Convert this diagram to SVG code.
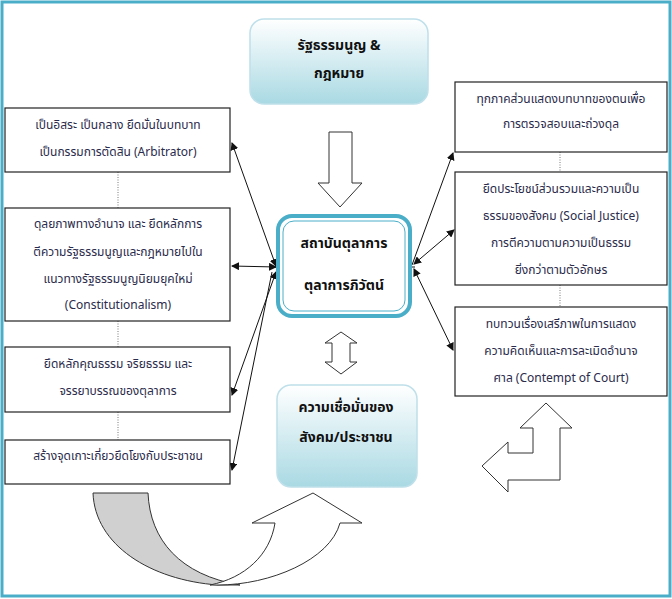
<svg xmlns="http://www.w3.org/2000/svg" width="672" height="599" viewBox="0 0 672 599">
<style>
.box{fill:#fff;stroke:#222;stroke-width:1.2}
.t{font-family:"Noto Sans Thai","Noto Sans","DejaVu Sans",sans-serif;font-size:12px;fill:#2b2b4b;text-anchor:middle}
.b{font-family:"Noto Sans Thai","Noto Sans","DejaVu Sans",sans-serif;font-size:14px;font-weight:bold;fill:#111;text-anchor:middle}
.c{stroke:#111;stroke-width:1;fill:none;marker-end:url(#ah)}
.cs{marker-start:url(#as)}
.dot{stroke:#555;stroke-width:0.8;stroke-dasharray:1,1.5}
.bg{fill:#fff;stroke:#333;stroke-width:1}
</style>
<defs>
<marker id="ah" markerWidth="8" markerHeight="8" refX="7" refY="4" orient="auto" markerUnits="userSpaceOnUse"><path d="M0,0 L8,4 L0,8 z" fill="#111"/></marker>
<marker id="as" markerWidth="8" markerHeight="8" refX="1" refY="4" orient="auto" markerUnits="userSpaceOnUse"><path d="M8,0 L0,4 L8,8 z" fill="#111"/></marker>
<linearGradient id="g" x1="0" y1="0" x2="0" y2="1"><stop offset="0" stop-color="#ffffff"/><stop offset="1" stop-color="#a9d9e3"/></linearGradient>
</defs>
<rect x="2" y="2" width="668" height="594" fill="#fff" stroke="#4aaec8" stroke-width="3"/>
<g id="connectors">
<line class="dot" x1="118" y1="172" x2="118" y2="208"/>
<line class="dot" x1="118" y1="321" x2="118" y2="347"/>
<line class="dot" x1="118" y1="412" x2="118" y2="440"/>
<line class="dot" x1="560" y1="152" x2="560" y2="172"/>
<line class="dot" x1="560" y1="285" x2="560" y2="307"/>
<line class="c cs" x1="232" y1="143" x2="276" y2="266"/>
<line class="c cs" x1="232" y1="266" x2="276" y2="267"/>
<line class="c cs" x1="276" y1="272" x2="232" y2="395"/>
<line class="c" x1="272" y1="272" x2="232" y2="470"/>
<line class="c" x1="412" y1="265" x2="453" y2="153"/>
<line class="c cs" x1="414" y1="264" x2="454" y2="230"/>
<line class="c cs" x1="414" y1="269" x2="453" y2="350"/>
<line x1="272" y1="267" x2="415" y2="267" stroke="#111" stroke-width="1"/>
</g>
<g id="top">
<rect x="250" y="19" width="178" height="85" rx="14" fill="url(#g)" stroke="#bfe0ea" stroke-width="1.5"/>
<text class="b" x="339" y="50">รัฐธรรมนูญ &amp;</text>
<text class="b" x="339" y="78">กฎหมาย</text>
</g>
<g id="downarrow"><path class="bg" d="M329,132 H352 V183 H362 L340,207 L318,183 H329 Z"/></g>
<g id="center">
<rect x="278" y="216" width="132" height="100" rx="14" fill="#fff" stroke="#4aaec8" stroke-width="4"/>
<rect x="283" y="221" width="122" height="90" rx="11" fill="none" stroke="#4aaec8" stroke-width="1"/>
<text class="b" x="344" y="248">สถาบันตุลาการ</text>
<text class="b" x="344" y="290">ตุลาการภิวัตน์</text>
</g>
<g id="dblarrow"><path class="bg" d="M341,332 L357,343 H350 V362 H357 L341,374 L325,362 H332 V343 H325 Z"/></g>
<g id="bottom">
<rect x="277" y="385" width="140" height="102" rx="14" fill="url(#g)" stroke="#bfe0ea" stroke-width="1.5"/>
<text class="b" x="346" y="412">ความเชื่อมั่นของ</text>
<text class="b" x="346" y="442">สังคม/ประชาชน</text>
</g>
<g id="L1"><rect class="box" x="5" y="108" width="225" height="64"/>
<text class="t" x="118" y="129">เป็นอิสระ เป็นกลาง ยึดมั่นในบทบาท</text>
<text class="t" x="118" y="156">เป็นกรรมการตัดสิน (Arbitrator)</text></g>
<g id="L2"><rect class="box" x="5" y="208" width="225" height="113"/>
<text class="t" x="118" y="228">ดุลยภาพทางอำนาจ และ ยึดหลักการ</text>
<text class="t" x="118" y="256">ตีความรัฐธรรมนูญและกฎหมายไปใน</text>
<text class="t" x="118" y="283">แนวทางรัฐธรรมนูญนิยมยุคใหม่</text>
<text class="t" x="118" y="309">(Constitutionalism)</text></g>
<g id="L3"><rect class="box" x="5" y="347" width="225" height="65"/>
<text class="t" x="118" y="368">ยึดหลักคุณธรรม จริยธรรม และ</text>
<text class="t" x="118" y="395">จรรยาบรรณของตุลาการ</text></g>
<g id="L4"><rect class="box" x="5" y="440" width="225" height="44"/>
<text class="t" x="118" y="460">สร้างจุดเกาะเกี่ยวยึดโยงกับประชาชน</text></g>
<g id="R1"><rect class="box" x="455" y="82" width="212" height="70"/>
<text class="t" x="561" y="103">ทุกภาคส่วนแสดงบทบาทของตนเพื่อ</text>
<text class="t" x="561" y="128">การตรวจสอบและถ่วงดุล</text></g>
<g id="R2"><rect class="box" x="455" y="172" width="212" height="113"/>
<text class="t" x="561" y="193">ยึดประโยชน์ส่วนรวมและความเป็น</text>
<text class="t" x="561" y="220">ธรรมของสังคม (Social Justice)</text>
<text class="t" x="561" y="247">การตีความตามความเป็นธรรม</text>
<text class="t" x="561" y="274">ยิ่งกว่าตามตัวอักษร</text></g>
<g id="R3"><rect class="box" x="455" y="307" width="212" height="89"/>
<text class="t" x="561" y="328">ทบทวนเรื่องเสรีภาพในการแสดง</text>
<text class="t" x="561" y="355">ความคิดเห็นและการละเมิดอำนาจ</text>
<text class="t" x="561" y="382">ศาล (Contempt of Court)</text></g>
<g id="bentarrow"><path class="bg" d="M546,403 L572,428 H560 V480 H508 V492 L482,466 L508,442 V453 H533 V428 H520 Z"/></g>
<g id="curvedarrow">
<path d="M93,493 H148 C150,540 180,575 240,585 H218 C150,580 95,545 93,493 Z" fill="#d0d0d0" stroke="#333" stroke-width="1"/>
<path d="M218,585 C270,585 330,560 340,523 H362 L313,493 L252,523 H275 C270,555 245,578 210,585 Z" fill="#fff" stroke="#333" stroke-width="1"/>
</g>
</svg>
